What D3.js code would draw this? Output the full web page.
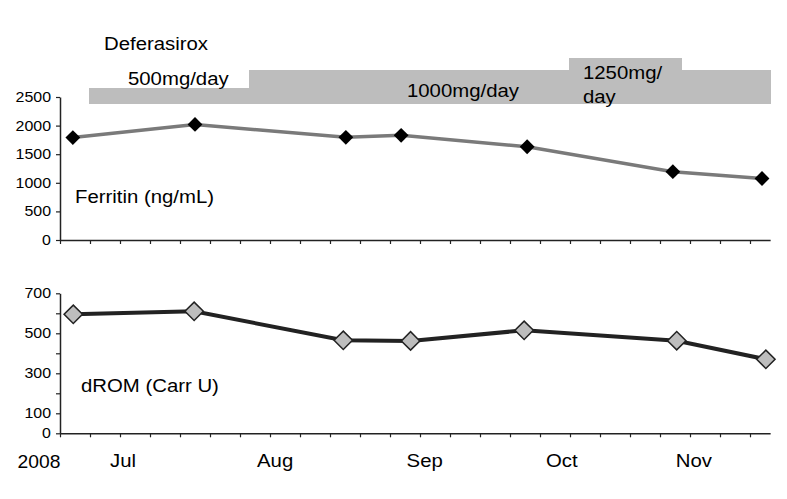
<!DOCTYPE html>
<html>
<head>
<meta charset="utf-8">
<script src="https://cdn.jsdelivr.net/npm/d3@7"></script>
<style>
  html, body { margin: 0; padding: 0; background: #fff; }
  svg { display: block; }
  text { font-family: "Liberation Sans", Arial, Helvetica, sans-serif; fill: #000; }
</style>
</head>
<body>
<svg id="chart" width="787" height="499"></svg>
<script>
// ---- data (x in days from axis origin) ----
const ferritinDays   = [3.0, 31.5, 66.7, 79.6, 109, 143, 163.8];
const ferritinValues = [1790, 2020, 1795, 1830, 1630, 1195, 1075];
const dromDays       = [3.1, 31.3, 66.1, 81.8, 108.3, 143.9, 164.7];
const dromValues     = [595, 610, 465, 462, 515, 463, 370];
const doseValues     = [500, 1000, 1250, 1000];
const doseStart      = [6.8, 44.1, 118.7, 144.9];
const doseEnd        = [44.1, 118.7, 144.9, 165.7];
const monthLabels    = ["2008", "Jul", "Aug", "Sep", "Oct", "Nov"];
const monthDays      = [-4.9, 14.7, 50.2, 85.1, 117.1, 147.9];
const ferritinTicks  = [0, 500, 1000, 1500, 2000, 2500];
const dromTicks      = [0, 100, 200, 300, 400, 500, 600, 700];
const dromTickLabels = [0, 100, 300, 500, 700];

const svg = d3.select("#chart");
const SX = 1.1; // horizontal stretch of the original lettering

const x = d3.scaleLinear().domain([0, 165.7]).range([60, 60 + 165.7 * 30 / 7]);
const yTop = d3.scaleLinear().domain([0, 2500]).range([240, 97]);
const yBot = d3.scaleLinear().domain([0, 700]).range([433.3, 293.3]);
const doseTop = d3.scaleLinear().domain([500, 1000, 1250]).range([88, 70, 58]);
const doseBase = 104;

function label(px, py, str, size, anchor) {
  const g = svg.append("g").attr("transform", `translate(${px},${py}) scale(${SX},1)`);
  g.append("text").attr("font-size", size).attr("text-anchor", anchor || "start").text(str);
  return g;
}

// ---- dose bands ----
svg.append("g").attr("shape-rendering", "crispEdges").selectAll("rect")
  .data(doseValues.map((d, i) => ({ dose: d, s: doseStart[i], e: doseEnd[i] })))
  .join("rect")
  .attr("x", d => x(d.s))
  .attr("width", d => x(d.e) - x(d.s) + 0.6)
  .attr("y", d => doseTop(d.dose))
  .attr("height", d => doseBase - doseTop(d.dose))
  .attr("fill", "#bdbdbd");

label(104, 49.5, "Deferasirox", 18.5);
label(128, 84.5, "500mg/day", 18.5);
label(407, 96.5, "1000mg/day", 18.5);
label(583, 78.5, "1250mg/", 18.5);
label(583, 103, "day", 18.5);

// ---- axes ----
const weekTicks = d3.range(0, 165, 7);

function styleAxis(g) {
  g.selectAll("path.domain").attr("stroke", "#222").attr("stroke-width", 1.5);
  g.selectAll(".tick line").attr("stroke", "#222").attr("stroke-width", 1.2);
  g.selectAll(".tick text").remove();
}

const xTop = svg.append("g").attr("transform", "translate(0,240)")
  .call(d3.axisBottom(x).tickValues(weekTicks).tickSize(4).tickSizeOuter(0));
styleAxis(xTop);
const xBot = svg.append("g").attr("transform", "translate(0,433.3)")
  .call(d3.axisBottom(x).tickValues(weekTicks).tickSize(4).tickSizeOuter(0));
styleAxis(xBot);

const yTopAx = svg.append("g").attr("transform", "translate(60,0)")
  .call(d3.axisLeft(yTop).tickValues(ferritinTicks).tickSize(4).tickSizeOuter(0));
styleAxis(yTopAx);
ferritinTicks.forEach(v => label(51, yTop(v) + 5, String(v), 14.5, "end"));

const yBotAx = svg.append("g").attr("transform", "translate(60,0)")
  .call(d3.axisLeft(yBot).tickValues(dromTicks).tickSize(4).tickSizeOuter(0));
styleAxis(yBotAx);
dromTickLabels.forEach(v => label(51, yBot(v) + 5, String(v), 14.5, "end"));

// month labels
monthLabels.forEach((m, i) => label(x(monthDays[i]), i === 0 ? 468 : 466.5, m, i === 0 ? 17.5 : 18.5, "middle"));

// ---- series labels ----
label(75, 203, "Ferritin (ng/mL)", 18.5);
label(81, 391.5, "dROM (Carr U)", 18.5);

// ---- ferritin line ----
const fData = ferritinDays.map((d, i) => [d, ferritinValues[i]]);
svg.append("path").datum(fData)
  .attr("fill", "none").attr("stroke", "#7a7a7a").attr("stroke-width", 3.5)
  .attr("d", d3.line().x(d => x(d[0])).y(d => yTop(d[1])));
svg.append("g").selectAll("path").data(fData).join("path")
  .attr("transform", d => `translate(${x(d[0])},${yTop(d[1])}) rotate(45)`)
  .attr("d", d3.symbol(d3.symbolSquare, 110)())
  .attr("fill", "#000");

// ---- dROM line ----
const dData = dromDays.map((d, i) => [d, dromValues[i]]);
svg.append("path").datum(dData)
  .attr("fill", "none").attr("stroke", "#222").attr("stroke-width", 4)
  .attr("d", d3.line().x(d => x(d[0])).y(d => yBot(d[1])));
svg.append("g").selectAll("path").data(dData).join("path")
  .attr("transform", d => `translate(${x(d[0])},${yBot(d[1])}) rotate(45)`)
  .attr("d", d3.symbol(d3.symbolSquare, 170)())
  .attr("fill", "#bdbdbd").attr("stroke", "#222").attr("stroke-width", 1.5);
</script>
</body>
</html>
